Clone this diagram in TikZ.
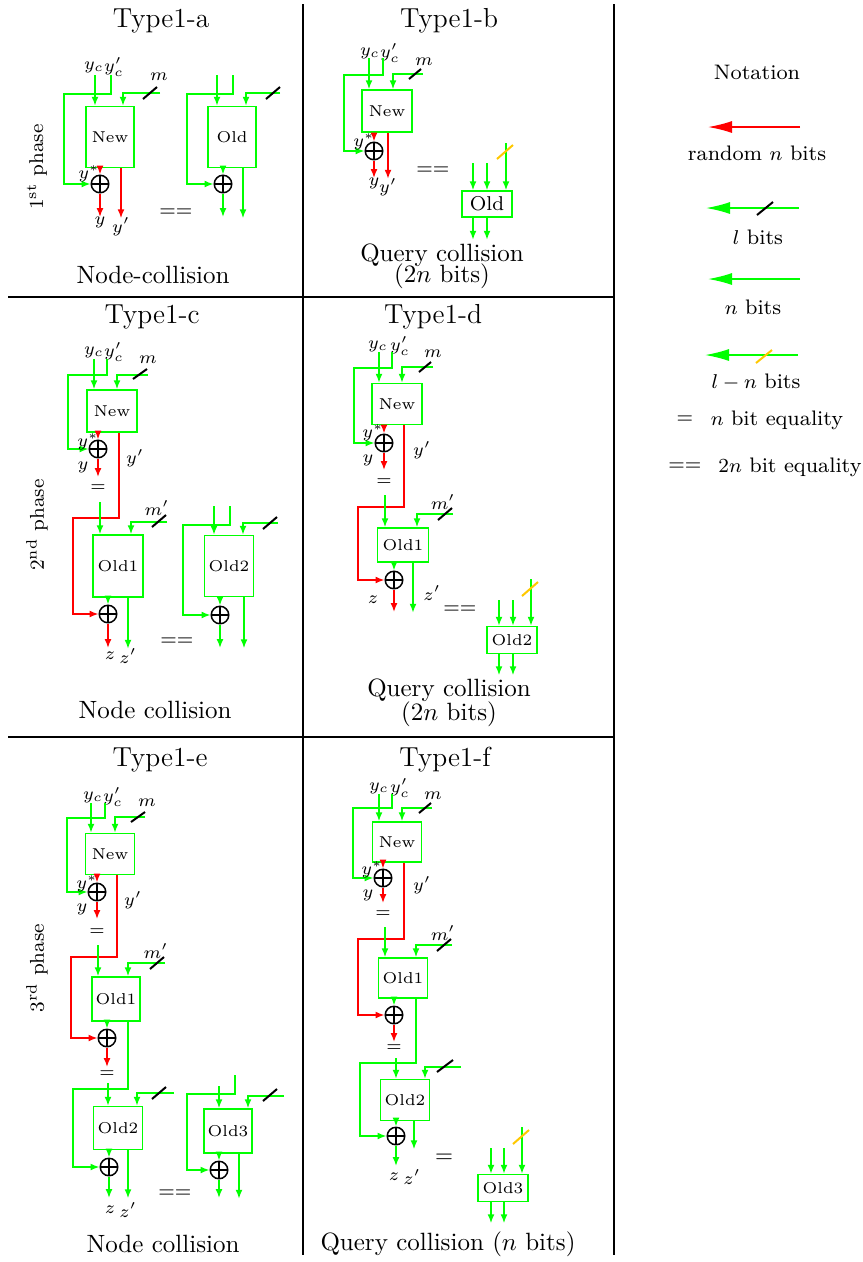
\documentclass[tikz,border=0pt]{standalone}
\usepackage{amsmath}
\usepackage{amssymb}
\usepackage{tikz}
\usetikzlibrary{arrows.meta}
\definecolor{cutyellow}{RGB}{255,200,0}

\tikzset{
  grn/.style={draw=green, line width=0.6pt},
  rd/.style={draw=red, line width=0.6pt},
  arr/.style={-{Latex[length=3.6pt,width=2.8pt]}},
  big/.style={line width=0.6pt, -{Latex[length=9.6pt,width=4.8pt]}},
  box/.style 2 args={draw=green, line width=0.6pt, inner sep=0pt,
    minimum width=#1*0.4pt, minimum height=#2*0.4pt, font=\fontsize{6.3}{7}\selectfont},
  xorc/.style={circle, draw=black, line width=0.6pt, minimum size=7pt, inner sep=0pt,
    path picture={\draw[line width=0.6pt] (path picture bounding box.north) -- (path picture bounding box.south)
      (path picture bounding box.west) -- (path picture bounding box.east);}},
  cut/.style={black, line width=0.8pt},
  cuty/.style={cutyellow, line width=0.8pt},
  lbl/.style={font=\fontsize{7}{8}\selectfont, inner sep=0.5pt},
  ttl/.style={font=\fontsize{11}{13}\selectfont, inner sep=0pt},
  captxt/.style={font=\fontsize{10}{12}\selectfont, inner sep=0pt},
  phase/.style={font=\fontsize{8}{9}\selectfont, inner sep=0pt, rotate=90},
  eqs/.style={font=\fontsize{8.2}{9}\selectfont, inner sep=0pt},
  eq/.style={font=\fontsize{7}{8}\selectfont, inner sep=0pt},
  ntxt/.style={font=\fontsize{8.4}{10}\selectfont, inner sep=0pt},
  divider/.style={black, line width=0.8pt}
}

\begin{document}
\begin{tikzpicture}[x=0.4pt, y=-0.4pt]
  \useasboundingbox (0,0) rectangle (862,1262);

  % Frame lines
  \draw[divider] (303,4) -- (303,1255);
  \draw[divider] (614,4) -- (614,1255);
  \draw[divider] (8,297) -- (614,297);
  \draw[divider] (8,737) -- (614,737);

  % Type1-a
  \node[ttl] (ta) at (161,21) {Type1-a};
  \node[phase] (pa) at (37,167) {1\textsuperscript{st} phase};
  \node[lbl] (lyca) at (94,67) {$y_c$};
  \node[lbl] (lypca) at (114,67) {$y'_c$};
  \coordinate (yca) at (95,75);
  \coordinate (ypca) at (111,75);
  \coordinate (ma) at (160,93);
  \node[box={48}{61}] (newa) at (110,137) {New};
  \node[xorc] (xa) at (100,184) {};
  \draw[grn,arr] (yca) -- (yca |- newa.north);
  \draw[grn,arr] (ypca) |- (64,94) |- (xa);
  \draw[grn,arr] (ma) -| (123,0 |- newa.north);
  \draw[cut] (150,93) ++(-7,6) -- ++(14,-12);
  \node[lbl] (lma) at (159,77) {$m$};
  \draw[rd,arr] (newa.south -| xa) -- (xa);
  \node[lbl] (lysa) at (89,174) {$y^*$};
  \draw[rd,arr] (xa) -- ++(0,33) node[lbl,below=-1pt] (lya) {$y$};
  \draw[rd,arr] (121,0 |- newa.south) -- ++(0,50) node[lbl,below=-1pt] (lypa) {$y'$};
  \node[eqs] (eqa) at (176,213) {$==$};
  \node[box={48}{61}] (olda) at (232,137) {Old};
  \node[xorc] (xa2) at (223,184) {};
  \coordinate (oa1) at (217,75);
  \coordinate (oa2) at (233,75);
  \coordinate (moa) at (280,93);
  \draw[grn,arr] (oa1) -- (oa1 |- olda.north);
  \draw[grn,arr] (oa2) |- (187,94) |- (xa2);
  \draw[grn,arr] (moa) -| (246,0 |- olda.north);
  \draw[cut] (273,93) ++(-7,6) -- ++(14,-12);
  \draw[grn,arr] (olda.south -| xa2) -- (xa2);
  \draw[grn,arr] (xa2) -- ++(0,33);
  \draw[grn,arr] (243,0 |- olda.south) -- ++(0,50);
  \node[captxt] (ca) at (153,275) {Node-collision};

  % Type1-b
  \node[ttl] (tb) at (449,21) {Type1-b};
  \node[lbl] (lycb) at (370,53) {$y_c$};
  \node[lbl] (lypcb) at (390,53) {$y'_c$};
  \coordinate (ycb) at (369,58);
  \coordinate (ypcb) at (383,58);
  \coordinate (mb) at (423,74);
  \node[box={50}{42}] (newb) at (387,111) {New};
  \node[xorc] (xb) at (374,151) {};
  \draw[grn,arr] (ycb) -- (ycb |- newb.north);
  \draw[grn,arr] (ypcb) |- (344,75) |- (xb);
  \draw[grn,arr] (mb) -| (393,0 |- newb.north);
  \draw[cut] (415,74) ++(-6,5) -- ++(12,-10);
  \node[lbl] (lmb) at (424,62) {$m$};
  \draw[rd,arr] (newb.south -| xb) -- (xb);
  \node[lbl] (lysb) at (364,142) {$y^*$};
  \draw[rd,arr] (xb) -- ++(0,27) node[lbl,below=-1pt] (lyb) {$y$};
  \draw[rd,arr] (388,0 |- newb.south) -- ++(0,46) node[lbl,below=-1pt] (lypb) {$y'$};
  \node[eqs] (eqb) at (433,171) {$==$};
  \node[box={50}{26}, font=\fontsize{8}{9}\selectfont] (oldb) at (487,204) {Old};
  \coordinate (ob1) at (473,163);
  \coordinate (ob2) at (487,163);
  \coordinate (ob3) at (506,143);
  \draw[grn,arr] (ob1) -- (ob1 |- oldb.north);
  \draw[grn,arr] (ob2) -- (ob2 |- oldb.north);
  \draw[grn,arr] (ob3) -- (ob3 |- oldb.north);
  \draw[cuty] (505,152) ++(-8,7) -- ++(16,-14);
  \draw[grn,arr] (473,0 |- oldb.south) -- ++(0,22);
  \draw[grn,arr] (487,0 |- oldb.south) -- ++(0,22);
  \node[captxt] (cb1) at (442,255) {Query collision};
  \node[captxt] (cb2) at (442,276) {(2$n$ bits)};

  % Notation
  \node[ntxt] (nt) at (757,72) {Notation};
  \coordinate (n1s) at (800,127); \coordinate (n1e) at (708,127);
  \draw[red,big] (n1s) -- (n1e);
  \node[ntxt] (n1t) at (757,153) {random $n$ bits};
  \coordinate (n2s) at (799,208); \coordinate (n2e) at (706,208);
  \draw[green,big] (n2s) -- (n2e);
  \draw[cut] (765,208) ++(-8,7) -- ++(16,-13);
  \node[ntxt] (n2t) at (758,237) {$l$ bits};
  \coordinate (n3s) at (800,279); \coordinate (n3e) at (708,279);
  \draw[green,big] (n3s) -- (n3e);
  \node[ntxt] (n3t) at (753,307) {$n$ bits};
  \coordinate (n4s) at (798,355); \coordinate (n4e) at (705,355);
  \draw[green,big] (n4s) -- (n4e);
  \draw[cuty] (764,356) ++(-8,7) -- ++(16,-13);
  \node[ntxt] (n4t) at (756,382) {$l-n$ bits};
  \node[ntxt] (n5a) at (685,420) {$=$};
  \node[ntxt] (n5t) at (777,420) {$n$ bit equality};
  \node[ntxt] (n6a) at (685,467) {$==$};
  \node[ntxt] (n6t) at (790,467) {$2n$ bit equality};

  % Type1-c
  \node[ttl] (tc) at (152,317) {Type1-c};
  \node[phase] (pc) at (37,525) {2\textsuperscript{nd} phase};
  \node[lbl] (lycc) at (94,352) {$y_c$};
  \node[lbl] (lypcc) at (114,352) {$y'_c$};
  \coordinate (ycc) at (94,359);
  \coordinate (ypcc) at (107,359);
  \coordinate (mc) at (148,375);
  \node[box={50}{42}] (newc) at (112,411) {New};
  \node[xorc] (xc) at (98,449) {};
  \draw[grn,arr] (ycc) -- (ycc |- newc.north);
  \draw[grn,arr] (ypcc) |- (68,375) |- (xc);
  \draw[grn,arr] (mc) -| (117,0 |- newc.north);
  \draw[cut] (140,374) ++(-7,5) -- ++(14,-10);
  \node[lbl] (lmc) at (148,360) {$m$};
  \draw[rd,arr] (newc.south -| xc) -- (xc);
  \node[lbl] (lysc) at (88,442) {$y^*$};
  \draw[rd,arr] (xc) -- ++(0,28);
  \node[lbl] (lyc) at (83,467) {$y$};
  \node[eq] (eqc) at (98,488) {$=$};
  \node[box={50}{62}] (old1c) at (118,566) {Old1};
  \node[xorc] (xc2) at (108,614) {};
  \draw[rd,arr] (119,0 |- newc.south) |- (73,518) |- (xc2);
  \node[lbl] (lypc) at (135,458) {$y'$};
  \coordinate (inc) at (100,502);
  \draw[grn,arr] (inc) -- (inc |- old1c.north);
  \coordinate (mpc) at (167,522);
  \draw[grn,arr] (mpc) -| (131,0 |- old1c.north);
  \draw[cut] (159,521) ++(-7,6) -- ++(14,-12);
  \node[lbl] (lmpc) at (157,508) {$m'$};
  \draw[grn,arr] (old1c.south -| xc2) -- (xc2);
  \draw[rd,arr] (xc2) -- ++(0,34);
  \draw[grn,arr] (128,0 |- old1c.south) -- ++(0,51);
  \node[lbl] (lzc) at (110,656) {$z$};
  \node[lbl] (lzpc) at (128,656) {$z'$};
  \node[eqs] (eqc2) at (177,642) {$==$};
  \node[box={49}{61}] (old2c) at (229,566) {Old2};
  \node[xorc] (xc3) at (220,615) {};
  \coordinate (oc1) at (214,506);
  \coordinate (oc2) at (230,506);
  \coordinate (moc) at (278,523);
  \draw[grn,arr] (oc1) -- (oc1 |- old2c.north);
  \draw[grn,arr] (oc2) |- (183,525) |- (xc3);
  \draw[grn,arr] (moc) -| (243,0 |- old2c.north);
  \draw[cut] (270,523) ++(-7,6) -- ++(14,-12);
  \draw[grn,arr] (old2c.south -| xc3) -- (xc3);
  \draw[grn,arr] (xc3) -- ++(0,33);
  \draw[grn,arr] (244,0 |- old2c.south) -- ++(0,51);
  \node[captxt] (cc) at (155,710) {Node collision};

  % Type1-d
  \node[ttl] (td) at (433,317) {Type1-d};
  \node[lbl] (lycd) at (378,346) {$y_c$};
  \node[lbl] (lypcd) at (400,346) {$y'_c$};
  \coordinate (ycd) at (379,352);
  \coordinate (ypcd) at (392,352);
  \coordinate (md) at (433,367);
  \node[box={50}{41}] (newd) at (397,404) {New};
  \node[xorc] (xd) at (384,443) {};
  \draw[grn,arr] (ycd) -- (ycd |- newd.north);
  \draw[grn,arr] (ypcd) |- (354,368) |- (xd);
  \draw[grn,arr] (md) -| (402,0 |- newd.north);
  \draw[cut] (425,367) ++(-6,5) -- ++(12,-10);
  \node[lbl] (lmd) at (433,354) {$m$};
  \draw[rd,arr] (newd.south -| xd) -- (xd);
  \node[lbl] (lysd) at (373,433) {$y^*$};
  \draw[rd,arr] (xd) -- ++(0,27);
  \node[lbl] (lyd) at (368,460) {$y$};
  \node[eq] (eqd) at (384,482) {$=$};
  \node[box={51}{34}] (old1d) at (403,545) {Old1};
  \node[xorc] (xd2) at (394,580) {};
  \draw[rd,arr] (404,0 |- newd.south) |- (358,507) |- (xd2);
  \node[lbl] (lypd) at (422,450) {$y'$};
  \coordinate (ind) at (385,495);
  \draw[grn,arr] (ind) -- (ind |- old1d.north);
  \coordinate (mpd) at (453,514);
  \draw[grn,arr] (mpd) -| (417,0 |- old1d.north);
  \draw[cut] (445,514) ++(-7,6) -- ++(14,-12);
  \node[lbl] (lmpd) at (443,502) {$m'$};
  \draw[grn,arr] (old1d.south -| xd2) -- (xd2);
  \draw[rd,arr] (xd2) -- ++(0,32);
  \draw[grn,arr] (413,0 |- old1d.south) -- ++(0,50);
  \node[lbl] (lzd) at (373,600) {$z$};
  \node[lbl] (lzpd) at (432,593) {$z'$};
  \node[eqs] (eqd2) at (460,610) {$==$};
  \node[box={50}{27}] (old2d) at (512,640) {Old2};
  \coordinate (od1) at (499,600);
  \coordinate (od2) at (513,600);
  \coordinate (od3) at (531,579);
  \draw[grn,arr] (od1) -- (od1 |- old2d.north);
  \draw[grn,arr] (od2) -- (od2 |- old2d.north);
  \draw[grn,arr] (od3) -- (od3 |- old2d.north);
  \draw[cuty] (530,589) ++(-8,7) -- ++(16,-14);
  \draw[grn,arr] (499,0 |- old2d.south) -- ++(0,21);
  \draw[grn,arr] (513,0 |- old2d.south) -- ++(0,21);
  \node[captxt] (cd1) at (449,690) {Query collision};
  \node[captxt] (cd2) at (449,714) {(2$n$ bits)};

  % Type1-e
  \node[ttl] (te) at (160,760) {Type1-e};
  \node[phase] (pe) at (37,968) {3\textsuperscript{rd} phase};
  \node[lbl] (lyce) at (93,797) {$y_c$};
  \node[lbl] (lypce) at (113,797) {$y'_c$};
  \coordinate (yce) at (91,803);
  \coordinate (ypce) at (105,803);
  \coordinate (me) at (145,817);
  \node[box={49}{41}] (newe) at (110,854) {New};
  \node[xorc] (xe) at (97,892) {};
  \draw[grn,arr] (yce) -- (yce |- newe.north);
  \draw[grn,arr] (ypce) |- (67,818) |- (xe);
  \draw[grn,arr] (me) -| (115,0 |- newe.north);
  \draw[cut] (138,817) ++(-7,5) -- ++(14,-10);
  \node[lbl] (lme) at (147,803) {$m$};
  \draw[rd,arr] (newe.south -| xe) -- (xe);
  \node[lbl] (lyse) at (87,884) {$y^*$};
  \draw[rd,arr] (xe) -- ++(0,27);
  \node[lbl] (lye) at (82,909) {$y$};
  \node[eq] (eqe) at (97,932) {$=$};
  \node[box={48}{44}] (old1e) at (116,999) {Old1};
  \node[xorc] (xe2) at (107,1038) {};
  \draw[rd,arr] (117,0 |- newe.south) |- (71,957) |- (xe2);
  \node[lbl] (lype) at (133,900) {$y'$};
  \coordinate (ine) at (98,945);
  \draw[grn,arr] (ine) -- (ine |- old1e.north);
  \coordinate (mpe) at (165,963);
  \draw[grn,arr] (mpe) -| (128,0 |- old1e.north);
  \draw[cut] (157,963) ++(-7,6) -- ++(14,-12);
  \node[lbl] (lmpe) at (156,951) {$m'$};
  \draw[grn,arr] (old1e.south -| xe2) -- (xe2);
  \draw[rd,arr] (xe2) -- ++(0,29);
  \node[eq] (eqe2) at (107,1074) {$=$};
  \node[box={49}{43}] (old2e) at (118,1128) {Old2};
  \node[xorc] (xe3) at (109,1167) {};
  \draw[grn,arr] (128,0 |- old1e.south) |- (73,1089) |- (xe3);
  \coordinate (ine2) at (108,1083);
  \draw[grn,arr] (ine2) -- (ine2 |- old2e.north);
  \coordinate (m2e) at (174,1093);
  \draw[grn,arr] (m2e) -| (137,0 |- old2e.north);
  \draw[cut] (159,1093) ++(-7,6) -- ++(14,-12);
  \draw[grn,arr] (old2e.south -| xe3) -- (xe3);
  \draw[grn,arr] (xe3) -- ++(0,31);
  \draw[grn,arr] (128,0 |- old2e.south) -- ++(0,48);
  \node[lbl] (lze) at (110,1210) {$z$};
  \node[lbl] (lzpe) at (128,1210) {$z'$};
  \node[eqs] (eqe3) at (175,1194) {$==$};
  \node[box={48}{44}] (old3e) at (228,1131) {Old3};
  \node[xorc] (xe4) at (219,1170) {};
  \coordinate (oe1) at (219,1086);
  \coordinate (oe2) at (235,1075);
  \coordinate (moe) at (284,1096);
  \draw[grn,arr] (oe1) -- (oe1 |- old3e.north);
  \draw[grn,arr] (oe2) |- (187,1094) |- (xe4);
  \draw[grn,arr] (moe) -| (248,0 |- old3e.north);
  \draw[cut] (270,1095) ++(-7,6) -- ++(14,-12);
  \draw[grn,arr] (old3e.south -| xe4) -- (xe4);
  \draw[grn,arr] (xe4) -- ++(0,28);
  \draw[grn,arr] (239,0 |- old3e.south) -- ++(0,45);
  \node[captxt] (ce) at (163,1244) {Node collision};

  % Type1-f
  \node[ttl] (tf) at (445,760) {Type1-f};
  \node[lbl] (lycf) at (379,788) {$y_c$};
  \node[lbl] (lypcf) at (400,788) {$y'_c$};
  \coordinate (ycf) at (379,794);
  \coordinate (ypcf) at (392,794);
  \coordinate (mf) at (432,808);
  \node[box={49}{40}] (newf) at (397,842) {New};
  \node[xorc] (xf) at (383,878) {};
  \draw[grn,arr] (ycf) -- (ycf |- newf.north);
  \draw[grn,arr] (ypcf) |- (353,808) |- (xf);
  \draw[grn,arr] (mf) -| (402,0 |- newf.north);
  \draw[cut] (425,808) ++(-6,5) -- ++(12,-10);
  \node[lbl] (lmf) at (433,796) {$m$};
  \draw[rd,arr] (newf.south -| xf) -- (xf);
  \node[lbl] (lysf) at (372,870) {$y^*$};
  \draw[rd,arr] (xf) -- ++(0,25);
  \node[lbl] (lyf) at (368,895) {$y$};
  \node[eq] (eqf) at (383,914) {$=$};
  \node[box={49}{40}] (old1f) at (403,978) {Old1};
  \node[xorc] (xf2) at (394,1015) {};
  \draw[rd,arr] (404,0 |- newf.south) |- (358,939) |- (xf2);
  \node[lbl] (lypf) at (422,885) {$y'$};
  \coordinate (inf) at (385,927);
  \draw[grn,arr] (inf) -- (inf |- old1f.north);
  \coordinate (mpf) at (452,945);
  \draw[grn,arr] (mpf) -| (416,0 |- old1f.north);
  \draw[cut] (444,945) ++(-7,6) -- ++(14,-12);
  \node[lbl] (lmpf) at (443,933) {$m'$};
  \draw[grn,arr] (old1f.south -| xf2) -- (xf2);
  \draw[rd,arr] (xf2) -- ++(0,27);
  \node[eq] (eqf2) at (394,1048) {$=$};
  \node[box={49}{41}] (old2f) at (405,1100) {Old2};
  \node[xorc] (xf3) at (396,1136) {};
  \draw[grn,arr] (416,0 |- old1f.south) |- (360,1063) |- (xf3);
  \coordinate (inf2) at (396,1058);
  \draw[grn,arr] (inf2) -- (inf2 |- old2f.north);
  \coordinate (m2f) at (461,1067);
  \draw[grn,arr] (m2f) -| (425,0 |- old2f.north);
  \draw[cut] (445,1066) ++(-8,6) -- ++(16,-12);
  \draw[grn,arr] (old2f.south -| xf3) -- (xf3);
  \draw[grn,arr] (xf3) -- ++(0,30);
  \draw[grn,arr] (414,0 |- old2f.south) -- ++(0,28);
  \node[lbl] (lzf) at (394,1177) {$z$};
  \node[lbl] (lzpf) at (412,1177) {$z'$};
  \node[font=\fontsize{9}{10}\selectfont, inner sep=0pt] (eqf3) at (444,1158) {$=$};
  \node[box={50}{27}] (old3f) at (503,1188) {Old3};
  \coordinate (of1) at (491,1148);
  \coordinate (of2) at (504,1148);
  \coordinate (of3) at (522,1127);
  \draw[grn,arr] (of1) -- (of1 |- old3f.north);
  \draw[grn,arr] (of2) -- (of2 |- old3f.north);
  \draw[grn,arr] (of3) -- (of3 |- old3f.north);
  \draw[cuty] (521,1137) ++(-8,7) -- ++(16,-14);
  \draw[grn,arr] (491,0 |- old3f.south) -- ++(0,21);
  \draw[grn,arr] (504,0 |- old3f.south) -- ++(0,21);
  \node[captxt] (cf) at (448,1244) {Query collision ($n$ bits)};
\end{tikzpicture}
\end{document}
